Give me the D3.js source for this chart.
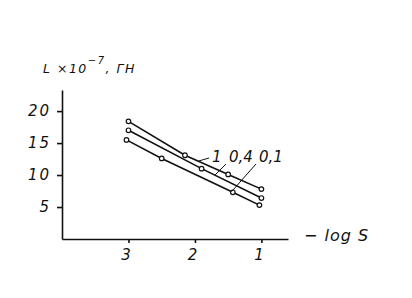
<!DOCTYPE html>
<html>
<head>
<meta charset="utf-8">
<script src="https://cdn.jsdelivr.net/npm/d3@7"></script>
<style>
  body { margin: 0; background: #fff; }
  svg text { font-family: "DejaVu Sans", sans-serif; font-style: italic; fill: #111; }
</style>
</head>
<body>
<div id="chart"></div>
<script>
const width = 412;
const height = 298;

// -log S values and L (x10^-7 H) for each curve
const curveNames = ["1", "0,4", "0,1"];
const xCurve1 = [3, 2.15, 1.5, 1];
const yCurve1 = [18.4, 13.1, 10.1, 7.8];
const xCurve04 = [3, 1.9, 1];
const yCurve04 = [17.0, 11.0, 6.4];
const xCurve01 = [3.03, 2.5, 1.43, 1.03];
const yCurve01 = [15.5, 12.6, 7.3, 5.3];

const xTicks = [3, 2, 1];
const yTicks = [5, 10, 15, 20];

// where the leader of each label touches its curve (-log S)
const labelAt = [1.95, 1.7, 1.45];

const curves = [
  {name: curveNames[0], xs: xCurve1, ys: yCurve1},
  {name: curveNames[1], xs: xCurve04, ys: yCurve04},
  {name: curveNames[2], xs: xCurve01, ys: yCurve01}
];

const svg = d3.select("#chart").append("svg")
  .attr("width", width)
  .attr("height", height);

const x = d3.scaleLinear()
  .domain([4, 0.6])
  .range([62, 288]);

const y = d3.scaleLinear()
  .domain([0, 23.3])
  .range([239, 90]);

const xAxis = g => g
  .attr("transform", `translate(0,${y(0)})`)
  .call(d3.axisBottom(x).tickValues(xTicks).tickFormat(d3.format("d")).tickSize(4).tickSizeOuter(0))
  .call(g => g.selectAll("text").attr("dy", "0.95em").attr("dx", "-3px").style("font-size", "15px"));

const yAxis = g => g
  .attr("transform", `translate(${x(4)},0)`)
  .call(d3.axisLeft(y).tickValues(yTicks).tickSize(5).tickPadding(6).tickSizeOuter(0))
  .call(g => g.selectAll("text").style("font-size", "15px").attr("letter-spacing", "2px"));

svg.append("g").call(xAxis);
svg.append("g").call(yAxis);

svg.selectAll(".domain, .tick line")
  .attr("stroke", "#111")
  .attr("stroke-width", 1.6);
svg.selectAll(".tick text").attr("fill", "#111");

const line = d3.line()
  .x(d => x(d[0]))
  .y(d => y(d[1]));

curves.forEach(function(c) {
  const pts = c.xs.map((v, i) => [v, c.ys[i]]);
  svg.append("path")
    .datum(pts)
    .attr("fill", "none")
    .attr("stroke", "#111")
    .attr("stroke-width", 1.6)
    .attr("d", line);

  svg.append("g")
    .selectAll("circle")
    .data(pts)
    .join("circle")
      .attr("cx", d => x(d[0]))
      .attr("cy", d => y(d[1]))
      .attr("r", 2.3)
      .attr("fill", "#fff")
      .attr("stroke", "#111")
      .attr("stroke-width", 1.2);
});

// labels with leader lines
const labelX = [212, 229, 259];
const labelBase = 162;
curves.forEach(function(c, i) {
  const onCurve = d3.scaleLinear().domain(c.xs).range(c.ys);
  const px = x(labelAt[i]);
  const py = y(onCurve(labelAt[i]));
  svg.append("line")
    .attr("x1", px)
    .attr("y1", py)
    .attr("x2", labelX[i] - 3)
    .attr("y2", labelBase + (i === 0 ? -4 : 2))
    .attr("stroke", "#111")
    .attr("stroke-width", 1);
  svg.append("text")
    .attr("x", labelX[i])
    .attr("y", labelBase)
    .style("font-size", "15px")
    .text(c.name);
});

// axis titles
const title = svg.append("text")
  .attr("x", 43)
  .attr("y", 73)
  .style("font-size", "12.5px")
  .attr("letter-spacing", "1.5px");
title.append("tspan").text("L ×10");
title.append("tspan").attr("dy", -9).style("font-size", "10px").text("−7");
title.append("tspan").attr("dy", 9).text(", ГН");

svg.append("text")
  .attr("x", 304)
  .attr("y", 241)
  .style("font-size", "16px")
  .attr("letter-spacing", "1px")
  .text("− log S");
</script>
</body>
</html>
